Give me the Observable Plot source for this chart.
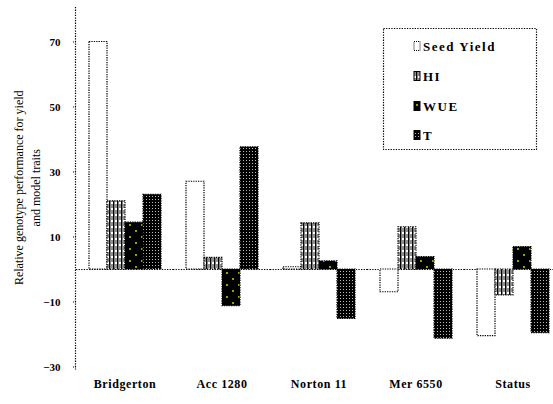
<!DOCTYPE html>
<html>
<head>
<meta charset="utf-8">
<script src="https://cdn.jsdelivr.net/npm/d3@7"></script>
<script src="https://cdn.jsdelivr.net/npm/@observablehq/plot@0.6"></script>
<style>
  html, body { margin: 0; padding: 0; background: #fff; overflow: hidden; }
  #chart { position: relative; width: 553px; height: 404px; }
</style>
</head>
<body>
<div id="chart"></div>
<script>
// ---- data ----
const categories = ["Bridgerton", "Acc 1280", "Norton 11", "Mer 6550", "Status"];
const seriesNames = ["Seed Yield", "HI", "WUE", "T"];
const seedYield = [70, 27, 0.7, -7, -20.5];
const hiValues  = [21, 3.6, 14.2, 13, -8];
const wueValues = [14.4, -11.3, 2.5, 3.8, 6.9];
const tValues   = [23, 37.6, -15.2, -21.3, -19.6];
const yTicks = [-30, -10, 10, 30, 50, 70];
const yTitleLines = ["Relative genotype performance for yield", "and model traits"];

const seriesValues = [seedYield, hiValues, wueValues, tValues];
const data = categories.flatMap((c, i) =>
  seriesNames.map((s, j) => ({category: c, series: s, value: seriesValues[j][i]}))
);
const patternIds = ["p-seed", "p-hi", "p-wue", "p-t"];

const svg = Plot.plot({
  width: 553,
  height: 404,
  marginLeft: 75,
  marginRight: -8,
  marginTop: 9,
  marginBottom: 37.5,
  style: {fontFamily: "'Liberation Serif', serif", fontSize: "12px", background: "white", color: "black", overflow: "visible"},
  fx: {domain: categories, padding: 0, label: null, axis: null},
  x: {domain: seriesNames, paddingInner: 0, paddingOuter: 0.64, axis: null},
  y: {domain: [-30, 80], axis: null},
  color: {domain: seriesNames, range: patternIds.map(id => `url(#${id})`)},
  marks: [
    Plot.ruleY([0], {stroke: "black", strokeWidth: 1.2, strokeDasharray: "1.3,1.3"}),
    Plot.barY(data, {fx: "category", x: "series", y: "value", fill: "series",
      stroke: "black", strokeWidth: 1.2, strokeDasharray: "1.3,1.1"}),
    Plot.axisY({ticks: yTicks, tickSize: 4, tickPadding: 12, label: null, fontSize: 11, fontWeight: "bold", strokeDasharray: "1,1"}),
    Plot.axisFx({anchor: "bottom", tickSize: 0, tickPadding: 12, label: null, fontSize: 12, fontWeight: "bold"})
  ]
});

const root = d3.select(svg);
root.selectAll("g[aria-label='fx-axis tick label']").style("letter-spacing", "0.6px");
// patterns for the bar fills
const defs = root.insert("defs", ":first-child");
// Seed yield: white
defs.append("pattern").attr("id", "p-seed").attr("patternUnits", "userSpaceOnUse")
  .attr("width", 4).attr("height", 4)
  .append("rect").attr("width", 4).attr("height", 4).attr("fill", "white");
// HI: vertical stripes
{
  const p = defs.append("pattern").attr("id", "p-hi").attr("patternUnits", "userSpaceOnUse")
    .attr("width", 4).attr("height", 6);
  p.append("rect").attr("width", 4).attr("height", 6).attr("fill", "white");
  p.append("rect").attr("x", 0).attr("width", 1.5).attr("height", 6).attr("fill", "black");
  p.append("rect").attr("x", 2.5).attr("y", 0).attr("width", 1).attr("height", 4).attr("fill", "#222");
}
// WUE: black with yellow dots
{
  const p = defs.append("pattern").attr("id", "p-wue").attr("patternUnits", "userSpaceOnUse")
    .attr("width", 12).attr("height", 12);
  p.append("rect").attr("width", 12).attr("height", 12).attr("fill", "black");
  p.append("circle").attr("cx", 3).attr("cy", 3).attr("r", 0.9).attr("fill", "#e8e800");
  p.append("circle").attr("cx", 9).attr("cy", 9).attr("r", 0.9).attr("fill", "#e8e800");
}
// T: black grid with white dots
{
  const p = defs.append("pattern").attr("id", "p-t").attr("patternUnits", "userSpaceOnUse")
    .attr("width", 3).attr("height", 3);
  p.append("rect").attr("width", 3).attr("height", 3).attr("fill", "black");
  p.append("rect").attr("x", 1).attr("y", 1).attr("width", 1).attr("height", 1).attr("fill", "#bbb");
}

// y-axis line through the library's y scale
const ys = svg.scale("y");
const fxs = svg.scale("fx");
const axisX = fxs.apply(categories[0]) - 0.5;
root.append("line")
  .attr("x1", axisX).attr("x2", axisX)
  .attr("y1", ys.apply(80) - 2).attr("y2", ys.apply(-30) + 3)
  .attr("stroke", "black").attr("stroke-width", 1.2).attr("stroke-dasharray", "1.3,1.3");

// y title (two rotated lines)
const yMid = (ys.apply(80) + ys.apply(-30)) / 2;
yTitleLines.forEach((line, i) => {
  root.append("text")
    .attr("transform", `translate(${19 + i * 17},${yMid}) rotate(-90)`)
    .attr("text-anchor", "middle")
    .attr("dominant-baseline", "central")
    .attr("font-family", "'Liberation Serif', serif")
    .attr("font-size", 12)
    .attr("fill", "black")
    .text(line);
});

// legend box
const lg = root.append("g").attr("text-anchor", "start");
lg.append("rect").attr("x", 383.5).attr("y", 28.5).attr("width", 153).attr("height", 121)
  .attr("fill", "white").attr("stroke", "black").attr("stroke-width", 1.2).attr("stroke-dasharray", "1.3,1.3");
const legendY = [46, 76, 106, 135];
seriesNames.forEach((s, i) => {
  lg.append("rect").attr("x", 414).attr("y", legendY[i] - 4.5).attr("width", 6).attr("height", 9)
    .attr("fill", `url(#${patternIds[i]})`).attr("stroke", "black").attr("stroke-width", 1)
    .attr("stroke-dasharray", i === 0 ? "1,1" : null);
  lg.append("text").attr("x", 423).attr("y", legendY[i])
    .attr("text-anchor", "start")
    .attr("dominant-baseline", "central")
    .attr("font-family", "'Liberation Serif', serif")
    .attr("font-size", 13).attr("font-weight", "bold").attr("letter-spacing", 1.5)
    .attr("fill", "black").text(s);
});

document.getElementById("chart").appendChild(svg);
</script>
</body>
</html>
